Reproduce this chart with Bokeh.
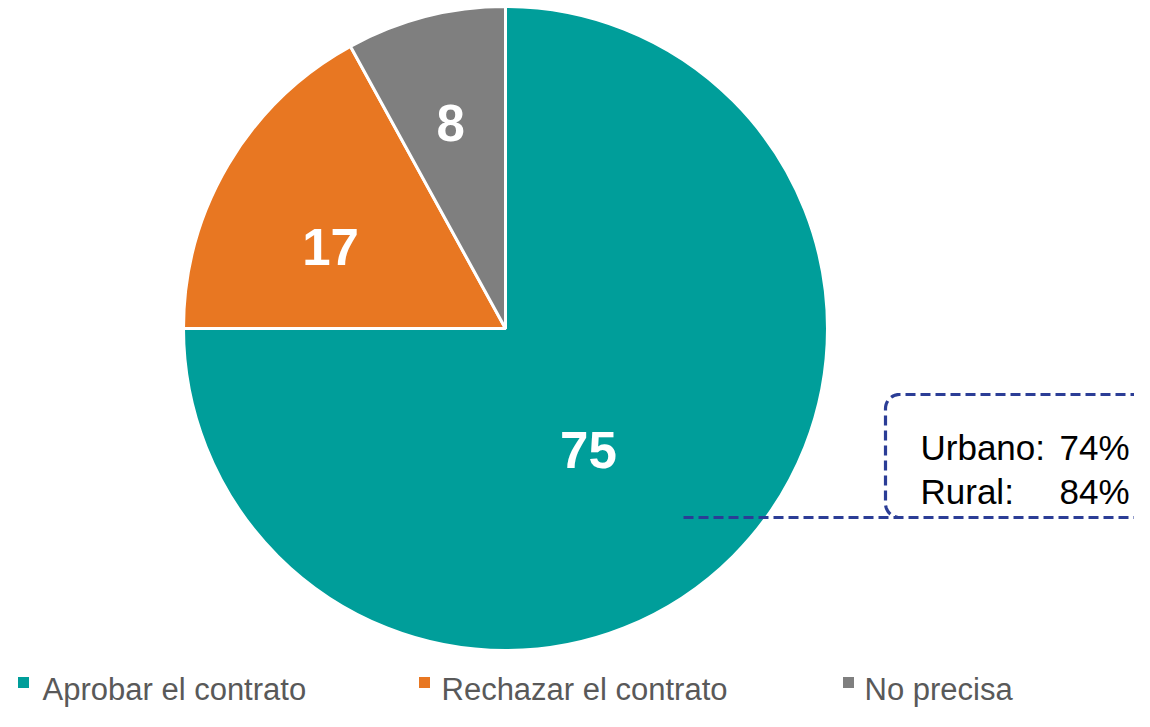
import numpy as np
from bokeh.plotting import figure
from bokeh.models import Range1d
from bokeh.core.properties import value
from bokeh.embed import file_html
from bokeh.resources import INLINE

# ---- data ----
categories = ["Aprobar el contrato", "Rechazar el contrato", "No precisa"]
values = [75, 17, 8]
colors = ["#009E9A", "#E87722", "#7F7F7F"]
callout_labels = ["Urbano:", "Rural:"]
callout_values = ["74%", "84%"]

# ---- layout ----
W, H = 1134, 711
FONT = value("Liberation Sans")


def Y(s):
    # picture y (pixels from top) -> data y
    return 727 - s


p = figure(width=W, height=H, x_range=Range1d(0, W), y_range=Range1d(727 - H, 727),
           output_backend="svg", toolbar_location=None, min_border=0)
p.axis.visible = False
p.grid.visible = False
p.outline_line_color = None
p.background_fill_color = "white"
p.border_fill_color = "white"

# pie
cx, cy, R = 505, Y(328), 322
fr = np.array(values, dtype=float) / sum(values)
ends = np.pi / 2 - 2 * np.pi * np.cumsum(fr)
starts = np.concatenate([[np.pi / 2], ends[:-1]])
p.wedge(x=cx, y=cy, radius=R, start_angle=list(ends), end_angle=list(starts),
        direction="anticlock", fill_color=colors, line_color="white", line_width=3)

# slice labels
lab_r = np.array([0.457, 0.600, 0.662]) * R
lab_shift = np.radians([-10.7, 5.5, 0.5])
mids = (starts + ends) / 2 + lab_shift
p.text(x=list(cx + lab_r * np.cos(mids)), y=list(cy + lab_r * np.sin(mids)),
       text=[str(v) for v in values], text_color="white", text_font=FONT,
       text_font_style="bold", text_font_size="51px", text_align="center",
       text_baseline="middle")

# callout box (rounded, dashed) and leader line
bx0, btop, bbot, rr = 885, 394, 517, 14
t = np.linspace(0, np.pi / 2, 12)
xs = [1170, bx0 + rr] + list(bx0 + rr - rr * np.sin(t)) + list(bx0 + rr - rr * np.cos(t))
ys = [btop, btop] + list(btop + rr - rr * np.cos(t)) + list(bbot - rr + rr * np.sin(t))
dash_col = "#2B3D96"
p.line(x=xs, y=[Y(v) for v in ys], line_color=dash_col, line_width=3.2, line_dash="10 5")
p.line(x=[683, 1170], y=[Y(bbot), Y(bbot)], line_color=dash_col, line_width=3.2, line_dash="10 5")

row_base = [447, 491]
p.text(x=[920, 920], y=[Y(v) for v in row_base], text=callout_labels, text_color="black",
       text_font=FONT, text_font_size="35px", text_align="left", text_baseline="alphabetic")
p.text(x=[1059, 1059], y=[Y(v) for v in row_base], text=callout_values, text_color="black",
       text_font=FONT, text_font_size="35px", text_align="left", text_baseline="alphabetic")

# legend (kept well inside the figure's bottom edge)
leg_sq_x = [23, 424, 848]
leg_tx_x = [42, 441, 864]
p.rect(x=leg_sq_x, y=[Y(682)] * 3, width=11, height=11, fill_color=colors, line_color=None)
p.text(x=leg_tx_x, y=[Y(689)] * 3, text=categories, text_color="#595959", text_font=FONT,
       text_font_size="31px", text_align="left", text_baseline="alphabetic")

open("out.html", "w").write(file_html(p, INLINE))
